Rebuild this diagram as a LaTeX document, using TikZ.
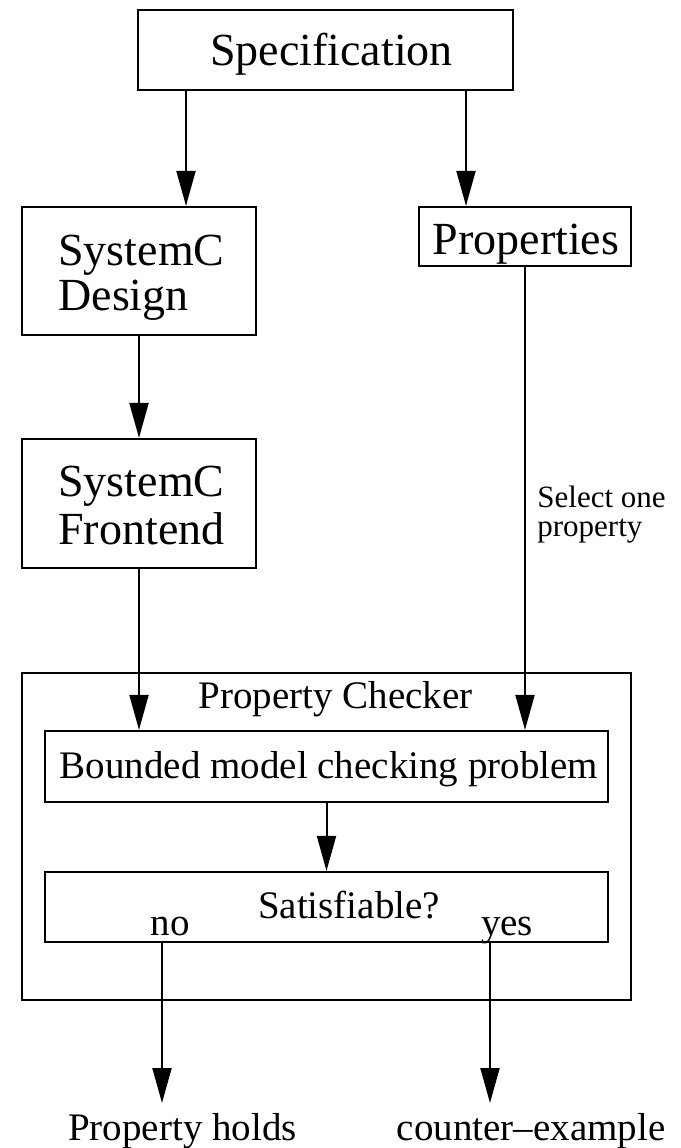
\documentclass[tikz,border=0pt]{standalone}
\usepackage{fontspec}
\setmainfont{Liberation Serif}
\usetikzlibrary{arrows.meta,fit}
\begin{document}
\begin{tikzpicture}[x=0.5pt,y=-0.5pt,
  box/.style={draw, line width=1.1pt, inner sep=0pt, rectangle},
  conn/.style={line width=1pt},
  arr/.style={line width=1pt, -{Triangle[length=17.5pt,width=9.5pt]}},
  big/.style={inner sep=0pt, font=\fontsize{23}{23}\selectfont},
  mid/.style={inner sep=0pt, font=\fontsize{19.5}{19.5}\selectfont},
  small/.style={inner sep=0pt, font=\fontsize{15.5}{15.5}\selectfont}]
\useasboundingbox (0,0) rectangle (681,1148);
% boxes
\node[box, fit={(138,10) (513,90)}] (spec) {};
\node[box, fit={(22,207) (256,335)}] (design) {};
\node[box, fit={(419,207) (631,266)}] (props) {};
\node[box, fit={(22,439) (256,568)}] (front) {};
\node[box, fit={(22,673) (631,1000)}] (checker) {};
\node[box, fit={(45,731) (608,802)}] (bmc) {};
\node[box, fit={(45,872) (608,942)}] (sat) {};
% texts
\node[big, anchor=base] (specT) at (331.5,65) {Specification};
\node[big, anchor=base west] (designT1) at (58,265) {SystemC};
\node[big, anchor=base west] (designT2) at (58,310) {Design};
\node[big, anchor=base] (propsT) at (526,254) {Properties};
\node[big, anchor=base west] (frontT1) at (58,496) {SystemC};
\node[big, anchor=base west] (frontT2) at (58,544) {Frontend};
\node[small, anchor=base west] (sel1) at (537,507) {Select one};
\node[small, anchor=base west] (sel2) at (537,536) {property};
\node[mid, anchor=base] (checkerT) at (335.5,708) {Property Checker};
\node[mid, anchor=base] (bmcT) at (329,778) {Bounded model checking problem};
\node[mid, anchor=base] (satT) at (349,918) {Satisfiable?};
\node[mid, anchor=base] (noT) at (170,935) {no};
\node[mid, anchor=base] (yesT) at (507,935) {yes};
\node[mid, anchor=base] (holds) at (182.5,1140) {Property holds};
\node[mid, anchor=base] (counter) at (531,1140) {counter--example};
% helper coordinates
\coordinate (xl) at (186,0);
\coordinate (xr) at (466,0);
\coordinate (tipA) at (162,1103);
\coordinate (tipB) at (490,1103);
% connectors
\draw[arr] (spec.south -| xl) -- (design.north -| xl);
\draw[arr] (spec.south -| xr) -- (props.north -| xr);
\draw[arr] (design.south) -- (front.north);
\draw[arr] (front.south) -- (front.south |- bmc.north);
\draw[arr] (props.south) -- (props.south |- bmc.north);
\draw[arr] (bmc.south) -- (sat.north);
\draw[arr] (sat.south -| tipA) -- (tipA);
\draw[arr] (sat.south -| tipB) -- (tipB);
\end{tikzpicture}
\end{document}
